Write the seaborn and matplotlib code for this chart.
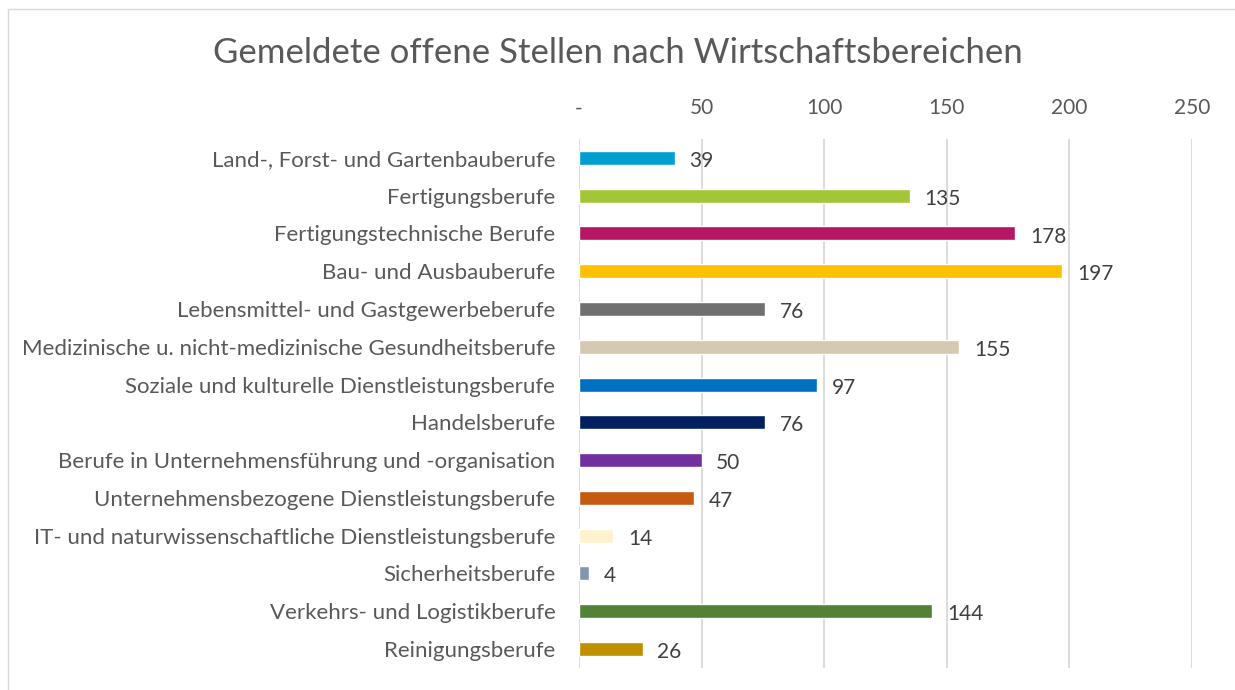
import pandas as pd
import seaborn as sns
import matplotlib.pyplot as plt
from matplotlib.patches import Rectangle

# Data
berufe = [
    "Land-, Forst- und Gartenbauberufe",
    "Fertigungsberufe",
    "Fertigungstechnische Berufe",
    "Bau- und Ausbauberufe",
    "Lebensmittel- und Gastgewerbeberufe",
    "Medizinische u. nicht-medizinische Gesundheitsberufe",
    "Soziale und kulturelle Dienstleistungsberufe",
    "Handelsberufe",
    "Berufe in Unternehmensführung und -organisation",
    "Unternehmensbezogene Dienstleistungsberufe",
    "IT- und naturwissenschaftliche Dienstleistungsberufe",
    "Sicherheitsberufe",
    "Verkehrs- und Logistikberufe",
    "Reinigungsberufe",
]
stellen = [39, 135, 178, 197, 76, 155, 97, 76, 50, 47, 14, 4, 144, 26]
farben = ["#009FCF", "#A3C639", "#B61765", "#FFC000", "#707070", "#D5C9B2",
          "#0070C0", "#002060", "#7030A0", "#C55A11", "#FFF2CC", "#8497B0",
          "#538135", "#BF9000"]
tick_werte = [0, 50, 100, 150, 200, 250]
tick_labels = ["-", "50", "100", "150", "200", "250"]

df = pd.DataFrame({"beruf": berufe, "stellen": stellen})

sns.set_theme(style="white")
plt.rcParams["font.family"] = ["Lato", "DejaVu Sans"]
text_col = "#595959"

fig = plt.figure(figsize=(12.35, 6.9), dpi=100)
ax = fig.add_axes([0.4688, 0.032, 0.4964, 0.7665])

sns.barplot(data=df, y="beruf", x="stellen", hue="beruf", palette=farben,
            legend=False, width=0.37, ax=ax, saturation=1)

ax.set_xlim(0, 250)
ax.set_xticks(tick_werte)
ax.set_xticklabels(tick_labels)
ax.xaxis.tick_top()
ax.tick_params(axis="x", length=0, pad=15, labelsize=15, labelcolor=text_col)
ax.tick_params(axis="y", length=0, pad=17, labelsize=16, labelcolor=text_col)
ax.set_xlabel("")
ax.set_ylabel("")
ax.grid(axis="x", color="#D9D9D9", linewidth=1.3)
ax.set_axisbelow(True)
for s in ax.spines.values():
    s.set_visible(False)

for i, v in enumerate(stellen):
    ax.text(v + 6, i + 0.08, str(v), va="center", ha="left",
            fontsize=15, color="#404040")

fig.text(0.5, 0.923, "Gemeldete offene Stellen nach Wirtschaftsbereichen",
         ha="center", va="center", fontsize=25, color=text_col)

# thin chart border
fig.patches.append(Rectangle((8 / 1235, -0.05), 1.1, 1.05 - 9 / 690,
                             transform=fig.transFigure, fill=False,
                             edgecolor="#D9D9D9", linewidth=1))

fig.savefig("out.png", dpi=100)
